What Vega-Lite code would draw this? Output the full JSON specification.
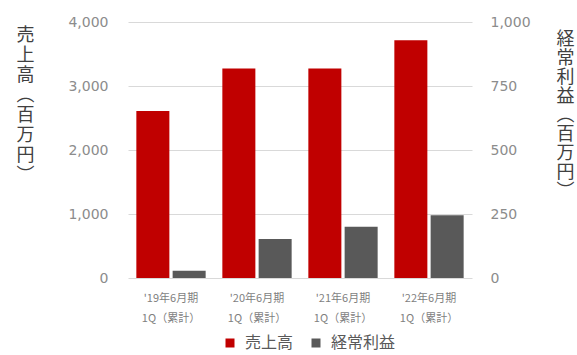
{
  "$schema": "https://vega.github.io/schema/vega-lite/v6.json",
  "width": 344,
  "height": 256,
  "autosize": {"type": "none"},
  "padding": {"left": 128, "top": 22, "right": 105, "bottom": 77},
  "background": "white",
  "config": {
    "view": {"stroke": null},
    "font": "Noto Sans CJK JP"
  },
  "data": {
    "values": [
      {"period": "'19年6月期\n1Q（累計）", "series": "売上高", "value": 2610},
      {"period": "'20年6月期\n1Q（累計）", "series": "売上高", "value": 3275},
      {"period": "'21年6月期\n1Q（累計）", "series": "売上高", "value": 3275},
      {"period": "'22年6月期\n1Q（累計）", "series": "売上高", "value": 3715},
      {"period": "'19年6月期\n1Q（累計）", "series": "経常利益", "value": 28},
      {"period": "'20年6月期\n1Q（累計）", "series": "経常利益", "value": 152},
      {"period": "'21年6月期\n1Q（累計）", "series": "経常利益", "value": 200},
      {"period": "'22年6月期\n1Q（累計）", "series": "経常利益", "value": 245}
    ]
  },
  "encoding": {
    "x": {
      "field": "period",
      "type": "nominal",
      "sort": null,
      "scale": {"paddingInner": 0, "paddingOuter": 0},
      "axis": {
        "title": null,
        "domain": false,
        "ticks": false,
        "labelAngle": 0,
        "labelExpr": "split(datum.label, '\\n')",
        "labelLineHeight": 20,
        "labelFontSize": 11,
        "labelColor": "#7f7f7f",
        "labelPadding": 14
      }
    },
    "xOffset": {
      "field": "series",
      "type": "nominal",
      "scale": {"domain": ["売上高", "経常利益"], "paddingInner": 0.09, "paddingOuter": 0.23}
    },
    "color": {
      "field": "series",
      "type": "nominal",
      "scale": {"domain": ["売上高", "経常利益"], "range": ["#C00000", "#595959"]},
      "legend": {
        "title": null,
        "orient": "none",
        "direction": "horizontal",
        "legendX": 94,
        "legendY": 313,
        "symbolType": "square",
        "symbolSize": 81,
        "symbolStrokeWidth": 0,
        "labelFontSize": 16,
        "labelColor": "#595959",
        "labelOffset": 7,
        "columnPadding": 14
      }
    }
  },
  "layer": [
    {
      "transform": [{"filter": "datum.series == '売上高'"}],
      "mark": {"type": "bar"},
      "encoding": {
        "y": {
          "field": "value",
          "type": "quantitative",
          "scale": {"domain": [0, 4000], "nice": false},
          "axis": {
            "orient": "left",
            "values": [0, 1000, 2000, 3000, 4000],
            "format": ",d",
            "grid": true,
            "gridColor": "#D9D9D9",
            "domain": false,
            "ticks": false,
            "labelPadding": 20,
            "labelFontSize": 14,
            "labelFont": "DejaVu Sans",
            "labelColor": "#8c8c8c",
            "title": ["売", "上", "高", "︵", "百", "万", "円", "︶"],
            "titleAngle": 0,
            "titleAlign": "center",
            "titleBaseline": "top",
            "titleX": -103,
            "titleY": 4,
            "titleLineHeight": 20,
            "titleFontSize": 18,
            "titleFontWeight": "normal",
            "titleColor": "#404040"
          }
        }
      }
    },
    {
      "transform": [{"filter": "datum.series == '経常利益'"}],
      "mark": {"type": "bar"},
      "encoding": {
        "y": {
          "field": "value",
          "type": "quantitative",
          "scale": {"domain": [0, 1000], "nice": false},
          "axis": {
            "orient": "right",
            "values": [0, 250, 500, 750, 1000],
            "format": ",d",
            "grid": false,
            "domain": false,
            "ticks": false,
            "labelPadding": 18,
            "labelFontSize": 14,
            "labelFont": "DejaVu Sans",
            "labelColor": "#8c8c8c",
            "title": ["経", "常", "利", "益", "︵", "百", "万", "円", "︶"],
            "titleAngle": 0,
            "titleAlign": "center",
            "titleBaseline": "top",
            "titleX": 93,
            "titleY": 8,
            "titleLineHeight": 19,
            "titleFontSize": 18,
            "titleFontWeight": "normal",
            "titleColor": "#404040"
          }
        }
      }
    }
  ],
  "resolve": {"scale": {"y": "independent"}}
}
